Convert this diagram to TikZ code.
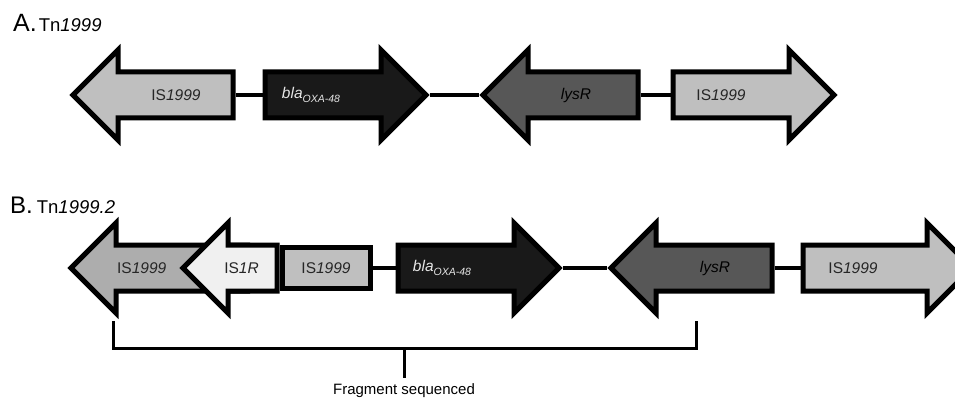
\documentclass[tikz,border=0pt]{standalone}
\usepackage{fontspec}
\setmainfont{Liberation Sans}
\usetikzlibrary{shapes.arrows}

\definecolor{isgray}{gray}{0.75}
\definecolor{isdark}{gray}{0.68}
\definecolor{islight}{gray}{0.94}
\definecolor{lysgray}{gray}{0.34}
\definecolor{blablack}{gray}{0.1}

\newcommand{\blaoxa}{\textit{bla}\raisebox{-4pt}{\fontsize{10.5}{10.5}\selectfont\itshape OXA-48}}
\newcommand{\isname}[1]{IS\textit{#1}}

\begin{document}
\begin{tikzpicture}[
    x=1pt, y=-1pt,
    gene/.style={single arrow, draw=black, line width=5pt,
      inner xsep=0pt, inner ysep=20.5pt,
      minimum width=85pt, single arrow head extend=22pt,
      single arrow tip angle=90, anchor=tail},
    fwd/.style={gene},
    rev/.style={gene, shape border rotate=180},
    isbox/.style={rectangle, draw=black, line width=5pt, inner sep=0pt},
    every label/.style={font=\fontsize{15.5}{18}\selectfont, text=black!85, inner sep=0pt},
    link/.style={line width=3.5pt},
    brace/.style={line width=3pt},
    title/.style={anchor=base west, inner sep=0pt}
  ]
  \useasboundingbox (0,0) rectangle (955,401);

  % A. Tn1999
  \node[title] (titleA) at (13,32)
    {{\fontsize{25}{25}\selectfont A.}\hspace{2pt}{\fontsize{18.5}{18.5}\selectfont Tn\textit{1999}}};
  \node[rev, minimum height=160pt, fill=isgray,
    label={[xshift=11.5pt]center:\isname{1999}}] (isA1) at (235.5,95) {};
  \node[fwd, minimum height=161pt, fill=blablack,
    label={[xshift=-23pt, text=white!90!black]center:\blaoxa}] (blaA) at (262.5,95) {};
  \node[rev, minimum height=155pt, fill=lysgray,
    label={[xshift=4pt, text=black]center:\textit{lysR}}] (lysA) at (640.5,95) {};
  \node[fwd, minimum height=161pt, fill=isgray,
    label={[xshift=-21pt]center:\isname{1999}}] (isA2) at (670.5,95) {};
  \draw[link] (isA1.tail) -- (blaA.tail);
  \draw[link] (blaA.tip) -- (lysA.tip);
  \draw[link] (lysA.tail) -- (isA2.tail);

  % B. Tn1999.2
  \node[title] (titleB) at (10,213)
    {{\fontsize{24}{24}\selectfont B.}\hspace{4pt}{\fontsize{18.5}{18.5}\selectfont Tn\textit{1999.2}}};
  \node[rev, minimum height=176.5pt, fill=isdark,
    label={[xshift=-29pt]center:\isname{1999}}] (isB1) at (250,268) {};
  \node[rev, minimum height=94pt, fill=islight,
    label=center:\isname{1R}] (isB2) at (279.5,268) {};
  \node[isbox, anchor=west, minimum width=88pt, minimum height=41pt, fill=isgray,
    label=center:\isname{1999}] (isB3) at (isB2.tail) {};
  \node[fwd, minimum height=161pt, fill=blablack,
    label={[xshift=-25pt, text=white!90!black]center:\blaoxa}] (blaB) at (395.5,268) {};
  \node[rev, minimum height=161pt, fill=lysgray,
    label={[xshift=12pt, text=black]center:\textit{lysR}}] (lysB) at (774.5,268) {};
  \node[fwd, minimum height=169pt, fill=isgray,
    label={[xshift=-23pt]center:\isname{1999}}] (isB4) at (800.5,268) {};
  \draw[link] (isB3.east) -- (blaB.tail);
  \draw[link] (blaB.tip) -- (lysB.tip);
  \draw[link] (lysB.tail) -- (isB4.tail);

  % fragment sequenced
  \coordinate (fragL) at (113,321);
  \coordinate (fragR) at (696,321);
  \coordinate (fragM) at (404,348);
  \draw[brace] (fragL) |- (fragM) -| (fragR);
  \draw[brace] (fragM) -- ++(0,30)
    node[below, inner sep=4pt, font=\fontsize{15}{18}\selectfont] (frag) {Fragment sequenced};
\end{tikzpicture}
\end{document}
